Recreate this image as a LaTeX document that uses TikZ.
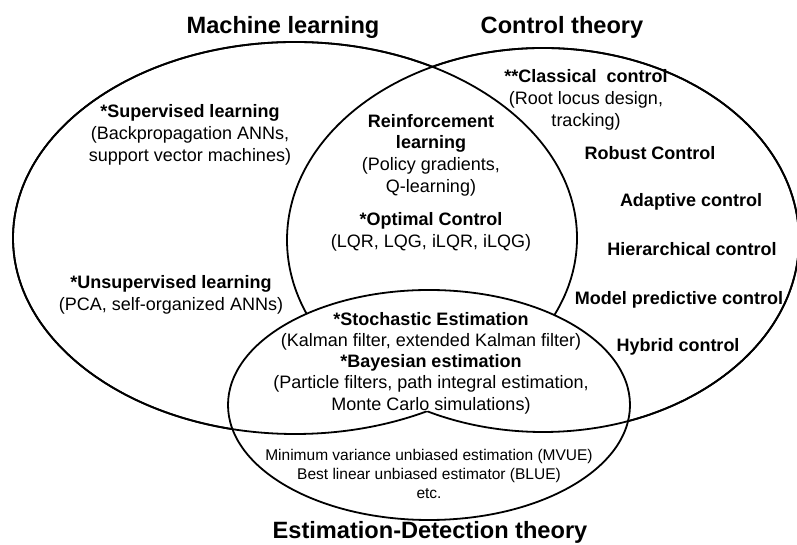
\documentclass[tikz,border=0pt]{standalone}
\usepackage{fontspec}
\setmainfont{Liberation Sans}
\begin{document}
\begin{tikzpicture}[x=1pt,y=1pt,
  venn/.style={line width=1.8pt},
  ttl/.style={font=\fontsize{23.6}{28}\selectfont\bfseries, anchor=base, inner sep=0pt},
  txt/.style={font=\fontsize{18}{21.7}\selectfont, align=center, inner sep=0pt},
  btxt/.style={font=\fontsize{18}{21.7}\selectfont\bfseries, align=center, inner sep=0pt},
  smalltxt/.style={font=\fontsize{15.5}{19}\selectfont, align=center, inner sep=0pt}]
\useasboundingbox (0,0) rectangle (797,545);
% Machine learning and control theory outlines, hidden inside the common region
\begin{scope}[even odd rule]
  \clip (-20,-20) rectangle (820,570) (429,140) ellipse [x radius=201, y radius=115];
  \draw[venn] (295,307) ellipse [x radius=282, y radius=196];
  \draw[venn] (543,305) ellipse [x radius=256, y radius=192];
\end{scope}
\begin{scope}[even odd rule]
  \clip (-20,-20) rectangle (820,570) (543,305) ellipse [x radius=256, y radius=192];
  \draw[venn] (295,307) ellipse [x radius=282, y radius=196];
\end{scope}
\begin{scope}[even odd rule]
  \clip (-20,-20) rectangle (820,570) (295,307) ellipse [x radius=282, y radius=196];
  \draw[venn] (543,305) ellipse [x radius=256, y radius=192];
\end{scope}
\draw[venn] (429,140) ellipse [x radius=201, y radius=115];
% titles
\node[ttl] (ml) at (283,511) {Machine learning};
\node[ttl] (ct) at (562,511) {Control theory};
\node[ttl] (edt) at (430,6.5) {Estimation-Detection theory};
% machine learning
\node[txt] (sup) at (190,410) {\textbf{*Supervised learning}\\(Backpropagation ANNs,\\support vector machines)};
\node[txt] (unsup) at (171,250) {\textbf{*Unsupervised learning}\\(PCA, self-organized ANNs)};
% common ML / control
\node[txt] (rl) at (431,390) {\textbf{Reinforcement}\\\textbf{learning}\\(Policy gradients,\\Q-learning)};
\node[txt] (oc) at (431,313) {\textbf{*Optimal Control}\\(LQR, LQG, iLQR, iLQG)};
% control theory
\node[txt] (cc) at (586,445) {\textbf{**Classical\ \ control}\\(Root locus design,\\tracking)};
\node[btxt] (rc) at (650,392) {Robust Control};
\node[btxt] (ac) at (691,343) {Adaptive control};
\node[btxt] (hc) at (692,296) {Hierarchical control};
\node[btxt] (mpc) at (679,245) {Model predictive control};
\node[btxt] (hyc) at (678,198) {Hybrid control};
% estimation
\node[txt, font=\fontsize{18}{21.2}\selectfont] (se) at (431,182) {\textbf{*Stochastic Estimation}\\(Kalman filter, extended Kalman filter)\\\textbf{*Bayesian estimation}\\(Particle filters, path integral estimation,\\Monte Carlo simulations)};
\node[smalltxt] (mv) at (429,71) {Minimum variance unbiased estimation (MVUE)\\Best linear unbiased estimator (BLUE)\\etc.};
\end{tikzpicture}
\end{document}
